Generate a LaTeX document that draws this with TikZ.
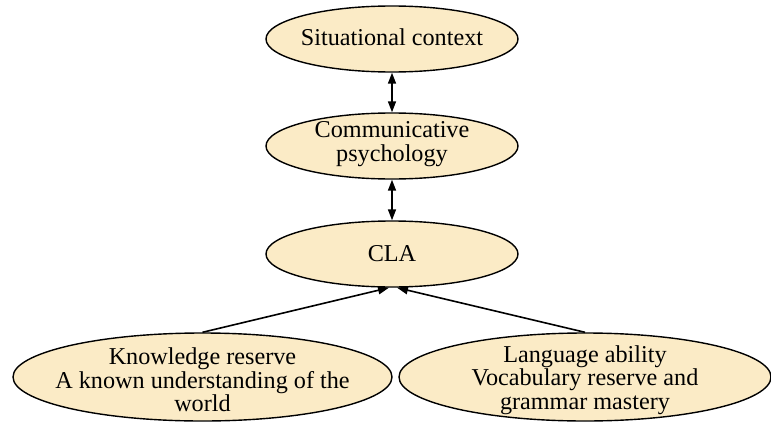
\documentclass[tikz,border=0pt]{standalone}
\usepackage{fontspec}
\setmainfont{Liberation Serif}
\usetikzlibrary{shapes.geometric,arrows.meta}
\definecolor{nodefill}{HTML}{FBEBC6}
\tikzset{
  ell/.style={ellipse, draw=black, line width=1.4pt, fill=nodefill, inner sep=0pt},
  lbl/.style={align=center, inner sep=0pt, font=\fontsize{24.2}{23.5}\selectfont},
  conn/.style={line width=1.6pt, draw=black},
  tip/.style={-{Triangle[length=11pt,width=8pt]}},
  bitip/.style={{Triangle[length=11pt,width=8pt]}-{Triangle[length=11pt,width=8pt]}}
}
\begin{document}
\begin{tikzpicture}[x=1pt,y=-1pt]
\useasboundingbox (0,0) rectangle (771,423);
\node[ell, minimum width=252pt, minimum height=66pt] (sc) at (392,39) {};
\node[lbl] (sct) at ([yshift=2pt]sc.center) {Situational context};
\node[ell, minimum width=252pt, minimum height=66pt] (cp) at (392,146) {};
\node[lbl] (cpt) at ([yshift=2pt]cp.center) {Communicative\\psychology};
\node[ell, minimum width=252pt, minimum height=66pt] (cla) at (392,254) {};
\node[lbl] (clat) at (cla.center) {CLA};
\node[ell, minimum width=379pt, minimum height=88pt] (kr) at (202.5,377) {};
\node[lbl] (krt) at ([yshift=-3pt]kr.center) {Knowledge reserve\\A known understanding of the\\world};
\node[ell, minimum width=372pt, minimum height=88pt] (la) at (585,377) {};
\node[lbl] (lat) at ([yshift=-3pt]la.center) {Language ability\\Vocabulary reserve and\\grammar mastery};
\draw[conn, bitip] (sc.south) -- (cp.north);
\draw[conn, bitip] (cp.south) -- (cla.north);
\draw[conn, tip] (kr.north) -- ([xshift=-3pt]cla.south);
\draw[conn, tip] (la.north) -- ([xshift=5pt]cla.south);
\end{tikzpicture}
\end{document}
